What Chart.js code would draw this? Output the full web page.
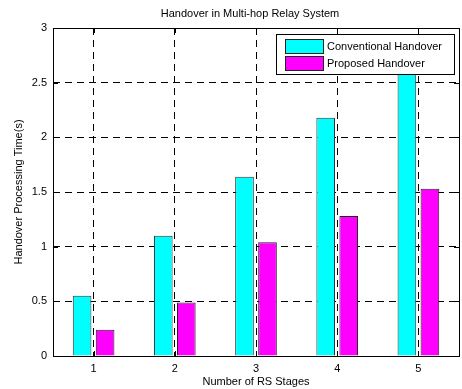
<!DOCTYPE html>
<html>
<head>
<meta charset="utf-8">
<script src="https://cdn.jsdelivr.net/npm/chart.js@4"></script>
<style>
html,body{margin:0;padding:0;background:#fff;}
#wrap{width:462px;height:389px;position:relative;}
</style>
</head>
<body>
<div id="wrap"><canvas id="c" width="462" height="389"></canvas></div>
<script>
const categories = ['1', '2', '3', '4', '5'];
const conventional = [0.55, 1.10, 1.64, 2.18, 2.73];
const proposed = [0.24, 0.49, 1.04, 1.28, 1.53];
const seriesNames = ['Conventional Handover', 'Proposed Handover'];
const yTicks = [0, 0.5, 1, 1.5, 2, 2.5, 3];
const chartTitle = 'Handover in Multi-hop Relay System';

const FONT = 'Liberation Sans, Arial, Helvetica, sans-serif';

const frame = {
  id: 'frame',
  afterDatasetsDraw(chart) {
    const {ctx, chartArea: a, scales} = chart;
    ctx.save();
    ctx.strokeStyle = '#000';
    ctx.lineWidth = 1;
    ctx.setLineDash([]);
    const tl = 5;
    ctx.beginPath();
    scales.y.ticks.forEach((t, i) => {
      const y = Math.round(scales.y.getPixelForTick(i)) + 0.5;
      ctx.moveTo(a.left, y); ctx.lineTo(a.left + tl, y);
      ctx.moveTo(a.right, y); ctx.lineTo(a.right - tl, y);
    });
    scales.x.ticks.forEach((t, i) => {
      const x = Math.round(scales.x.getPixelForValue(i)) + 0.5;
      ctx.moveTo(x, a.bottom); ctx.lineTo(x, a.bottom - tl);
      ctx.moveTo(x, a.top); ctx.lineTo(x, a.top + tl);
    });
    ctx.stroke();
    ctx.strokeRect(Math.round(a.left) + 0.5, Math.round(a.top) + 0.5,
      Math.round(a.right - a.left), Math.round(a.bottom - a.top));
    ctx.restore();
  },
  afterDraw(chart) {
    const {ctx, chartArea: a} = chart;
    ctx.save();
    // title
    ctx.fillStyle = '#000';
    ctx.font = '11px ' + FONT;
    ctx.textAlign = 'center';
    ctx.textBaseline = 'middle';
    ctx.fillText(chartTitle, 250, 14);
    // legend
    const bx = 276.5, by = 34.5, bw = 178, bh = 40;
    ctx.fillStyle = '#fff';
    ctx.fillRect(bx, by, bw, bh);
    ctx.strokeStyle = '#000';
    ctx.lineWidth = 1;
    ctx.setLineDash([]);
    ctx.strokeRect(bx, by, bw, bh);
    ctx.textAlign = 'left';
    chart.data.datasets.forEach((ds, i) => {
      const sy = 39.5 + i * 17;
      ctx.fillStyle = ds.backgroundColor;
      ctx.fillRect(285.5, sy, 38, 14);
      ctx.strokeStyle = '#222';
      ctx.strokeRect(285.5, sy, 38, 14);
      ctx.fillStyle = '#000';
      ctx.fillText(ds.label, 327, sy + 7.5);
    });
    ctx.restore();
  }
};

new Chart(document.getElementById('c'), {
  type: 'bar',
  data: {
    labels: categories,
    datasets: [
      {label: seriesNames[0], data: conventional, backgroundColor: '#00FFFF', borderColor: '#333', borderWidth: 1,
       categoryPercentage: 0.567, barPercentage: 0.81},
      {label: seriesNames[1], data: proposed, backgroundColor: '#FF00FF', borderColor: '#222', borderWidth: 1,
       categoryPercentage: 0.567, barPercentage: 0.81}
    ]
  },
  options: {
    responsive: false,
    animation: false,
    devicePixelRatio: 1,
    layout: {padding: {left: 0, right: 3, top: 28, bottom: 0}},
    plugins: {
      legend: {display: false},
      tooltip: {enabled: false},
      title: {display: false}
    },
    scales: {
      x: {
        offset: true,
        grid: {display: true, offset: false, color: '#000', lineWidth: 1, drawTicks: false},
        border: {display: false, dash: [7, 5]},
        ticks: {color: '#000', font: {family: FONT, size: 11}, padding: 6, maxRotation: 0},
        title: {display: true, text: 'Number of RS Stages', color: '#000',
                font: {family: FONT, size: 11}, padding: {top: 0, bottom: 0}},
        afterFit(s) { s.height = 33; }
      },
      y: {
        min: 0, max: 3,
        afterBuildTicks(s) { s.ticks = yTicks.map(v => ({value: v})); },
        grid: {display: true, color: '#000', lineWidth: 1, drawTicks: false},
        border: {display: false, dash: [7, 5]},
        ticks: {color: '#000', font: {family: FONT, size: 11}, padding: 6,
                callback: v => String(v)},
        title: {display: true, text: 'Handover Processing Time(s)', color: '#000',
                font: {family: FONT, size: 11}, padding: {top: 12, bottom: 0}},
        afterFit(s) { s.width = 53; }
      }
    }
  },
  plugins: [frame]
});
</script>
</body>
</html>
